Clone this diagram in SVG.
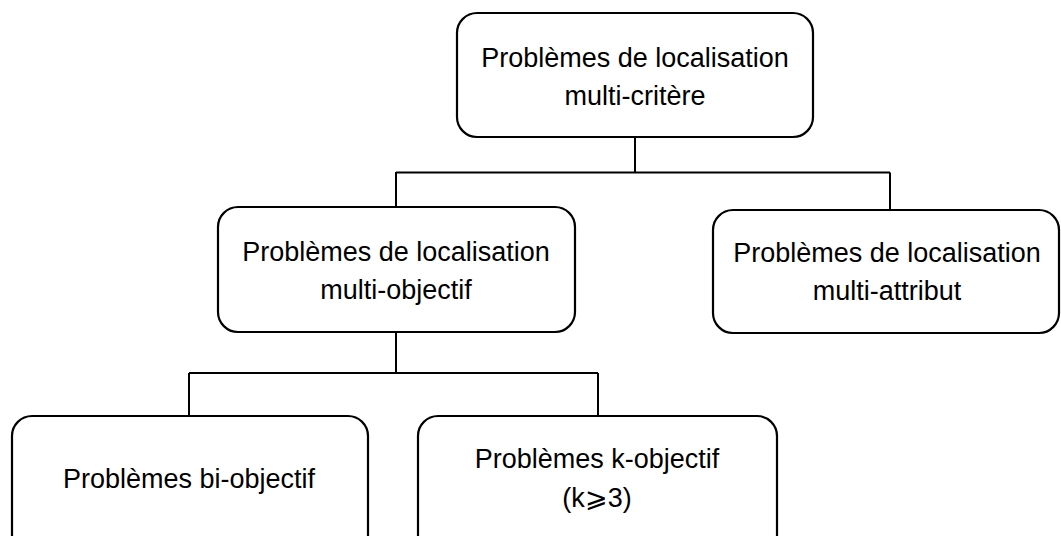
<svg xmlns="http://www.w3.org/2000/svg" width="1061" height="536" viewBox="0 0 1061 536">
<style>
.box{fill:#fff;stroke:#000;stroke-width:2.2}
.lbl{font-family:"Liberation Sans",Arial,sans-serif;font-size:27px;fill:#000;text-anchor:middle}
.conn{fill:none;stroke:#000;stroke-width:2}
</style>
<rect width="1061" height="536" fill="#fff"/>
<g id="connectors">
<path class="conn" d="M635,137 V172.5 M396,172.5 H890 M396,172 V207 M890,172.5 V210"/>
<path class="conn" d="M396,332 V373 M189,373 H598 M189,373 V416 M598,373 V416"/>
</g>
<g id="node-root">
<rect class="box" x="457" y="13" width="356" height="124" rx="20"/>
<text class="lbl" x="635" y="67">Problèmes de localisation</text>
<text class="lbl" x="635" y="105">multi-critère</text>
</g>
<g id="node-multiobjectif">
<rect class="box" x="218" y="207" width="357" height="125" rx="20"/>
<text class="lbl" x="396" y="261">Problèmes de localisation</text>
<text class="lbl" x="396" y="299">multi-objectif</text>
</g>
<g id="node-multiattribut">
<rect class="box" x="713" y="210" width="346" height="123" rx="20"/>
<text class="lbl" x="887" y="262">Problèmes de localisation</text>
<text class="lbl" x="887" y="300">multi-attribut</text>
</g>
<g id="node-biobjectif">
<rect class="box" x="12" y="416" width="356" height="140" rx="20"/>
<text class="lbl" x="189" y="488">Problèmes bi-objectif</text>
</g>
<g id="node-kobjectif">
<rect class="box" x="418" y="416" width="359" height="140" rx="20"/>
<text class="lbl" x="597" y="468">Problèmes k-objectif</text>
<text class="lbl" x="597" y="507">(k⩾3)</text>
</g>
</svg>
